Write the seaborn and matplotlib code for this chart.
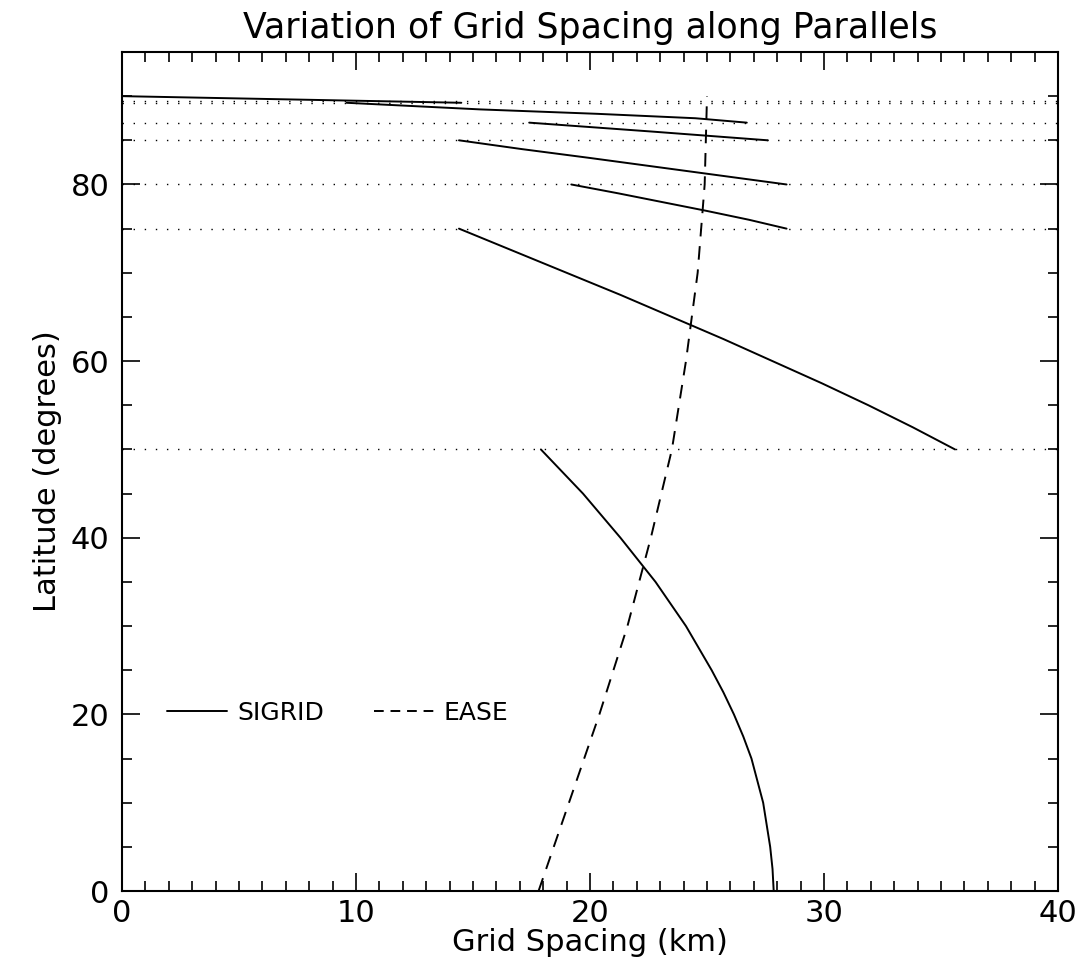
import pandas as pd
import seaborn as sns
import matplotlib.pyplot as plt
from matplotlib.lines import Line2D

# SIGRID spacing along parallels, one list pair per latitude band
lat_00_50 = [0, 2.5, 5, 7.5, 10, 12.5, 15, 17.5, 20, 22.5, 25, 27.5, 30,
             32.5, 35, 37.5, 40, 42.5, 45, 47.5, 50]
km_00_50 = [27.85, 27.8, 27.7, 27.55, 27.4, 27.15, 26.9, 26.55, 26.15, 25.7,
            25.2, 24.65, 24.1, 23.45, 22.8, 22.05, 21.3, 20.5, 19.7, 18.8, 17.9]
lat_50_75 = [50, 52.5, 55, 57.5, 60, 62.5, 65, 67.5, 70, 72.5, 75]
km_50_75 = [35.6, 33.8, 31.9, 29.9, 27.8, 25.7, 23.5, 21.3, 19.0, 16.7, 14.4]
lat_75_80 = [75, 76, 77, 78, 79, 80]
km_75_80 = [28.4, 26.8, 25.0, 23.1, 21.2, 19.2]
lat_80_85 = [80, 81, 82, 83, 84, 85]
km_80_85 = [28.4, 25.6, 22.8, 20.0, 17.1, 14.4]
lat_85_87 = [85, 85.5, 86, 86.5, 87]
km_85_87 = [27.6, 25.1, 22.6, 20.0, 17.4]
lat_87_89 = [87, 87.5, 88, 88.5, 89.25]
km_87_89 = [26.7, 24.5, 20.3, 15.3, 9.6]
lat_89_90 = [89.25, 90]
km_89_90 = [14.5, 0.0]

# EASE grid spacing along parallels
ease_lat = [0, 10, 20, 30, 40, 50, 60, 70, 80, 90]
ease_km = [17.8, 19.1, 20.4, 21.6, 22.6, 23.5, 24.1, 24.6, 24.9, 25.0]

# band boundaries drawn as dotted parallels
parallels = [89.5, 89.25, 87, 85, 80, 75, 50]

bands = [(lat_00_50, km_00_50), (lat_50_75, km_50_75), (lat_75_80, km_75_80),
         (lat_80_85, km_80_85), (lat_85_87, km_85_87), (lat_87_89, km_87_89),
         (lat_89_90, km_89_90)]
rows = []
for i, (la, km) in enumerate(bands):
    rows += [{'lat': a, 'km': k, 'seg': i, 'grid': 'SIGRID'} for a, k in zip(la, km)]
rows += [{'lat': a, 'km': k, 'seg': 99, 'grid': 'EASE'} for a, k in zip(ease_lat, ease_km)]
df = pd.DataFrame(rows)

sns.set_style('ticks')
plt.rcParams['font.family'] = ['DejaVu Sans']
plt.rcParams.update({'text.color': 'black', 'axes.labelcolor': 'black',
                     'xtick.color': 'black', 'ytick.color': 'black'})

fig = plt.figure(figsize=(10.83, 9.61), dpi=100)
ax = fig.add_axes([0.1127, 0.0728, 0.8642, 0.8731])

sns.lineplot(data=df, x='km', y='lat', units='seg', estimator=None, sort=False,
             style='grid', dashes={'SIGRID': '', 'EASE': (7, 5)},
             color='black', lw=1.4, legend=False, ax=ax)

for p in parallels:
    ax.axhline(p, color='black', lw=1.0, ls=(0, (1, 7)))

ax.set_xlim(0, 40)
ax.set_ylim(0, 95)
ax.set_xticks(range(0, 41, 10))
ax.set_xticks(range(0, 41, 1), minor=True)
ax.set_yticks(range(0, 81, 20))
ax.set_yticks(range(0, 96, 5), minor=True)
ax.tick_params(which='both', direction='in', top=True, right=True, width=1.2,
               color='black', labelsize=22)
ax.tick_params(which='major', length=13)
ax.tick_params(which='minor', length=7)
ax.tick_params(axis='x', pad=6)
ax.tick_params(axis='y', pad=9)
for s in ax.spines.values():
    s.set_linewidth(1.5)
    s.set_color('black')

ax.set_title('Variation of Grid Spacing along Parallels', fontsize=25, pad=10)
ax.set_xlabel('Grid Spacing (km)', fontsize=22, labelpad=0)
ax.set_ylabel('Latitude (degrees)', fontsize=22, labelpad=6)

handles = [Line2D([], [], color='black', lw=1.4),
           Line2D([], [], color='black', lw=1.4, dashes=(5, 3.5))]
ax.legend(handles, ['SIGRID', 'EASE'], ncol=2, frameon=False, fontsize=18,
          loc='center left', bbox_to_anchor=(0.048, 0.212), borderpad=0,
          borderaxespad=0, handlelength=2.4, handletextpad=0.4, columnspacing=2.0)

fig.savefig('out.png', dpi=100, facecolor='white')
